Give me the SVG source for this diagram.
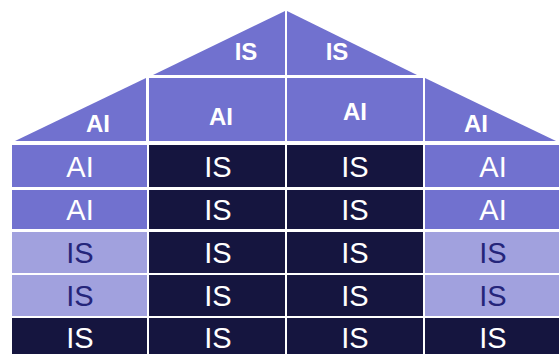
<svg xmlns="http://www.w3.org/2000/svg" width="559" height="354" viewBox="0 0 559 354">
<style>
.mid{fill:#7171CF}
.dark{fill:#15153F}
.light{fill:#A1A1DE}
text{font-family:"Liberation Sans",Arial,sans-serif;text-anchor:middle}
.t{font-size:29px}
.r{font-size:24px;font-weight:bold}
.w{fill:#FFFFFF}
.d{fill:#25257A}
</style>
<rect width="559" height="354" fill="#FFFFFF"/>
<g id="roof-top-left"><polygon class="mid" points="153,75 285,11 285,75"/><text class="r w" x="246" y="60">IS</text></g>
<g id="roof-top-right"><polygon class="mid" points="287,11 417,75 287,75"/><text class="r w" x="337" y="60">IS</text></g>
<g id="roof-left"><polygon class="mid" points="15,141 146,78 146,141"/><text class="r w" x="98" y="132">AI</text></g>
<g id="roof-mid-left"><rect class="mid" x="149" y="78" width="136" height="63"/><text class="r w" x="221" y="125">AI</text></g>
<g id="roof-mid-right"><rect class="mid" x="287" y="78" width="136" height="63"/><text class="r w" x="355" y="120">AI</text></g>
<g id="roof-right"><polygon class="mid" points="425,78 556,141 425,141"/><text class="r w" x="476" y="132">AI</text></g>

<g id="r1c1"><rect class="mid" x="12" y="145" width="135" height="42"/><text class="t w" x="80" y="177">AI</text></g>
<g id="r1c2"><rect class="dark" x="149" y="145" width="136" height="42"/><text class="t w" x="218" y="177">IS</text></g>
<g id="r1c3"><rect class="dark" x="287" y="145" width="136" height="42"/><text class="t w" x="355" y="177">IS</text></g>
<g id="r1c4"><rect class="mid" x="425" y="145" width="134" height="42"/><text class="t w" x="493" y="177">AI</text></g>

<g id="r2c1"><rect class="mid" x="12" y="190" width="135" height="39"/><text class="t w" x="80" y="220">AI</text></g>
<g id="r2c2"><rect class="dark" x="149" y="190" width="136" height="39"/><text class="t w" x="218" y="220">IS</text></g>
<g id="r2c3"><rect class="dark" x="287" y="190" width="136" height="39"/><text class="t w" x="355" y="220">IS</text></g>
<g id="r2c4"><rect class="mid" x="425" y="190" width="134" height="39"/><text class="t w" x="493" y="220">AI</text></g>

<g id="r3c1"><rect class="light" x="12" y="232" width="135" height="41"/><text class="t d" x="80" y="263">IS</text></g>
<g id="r3c2"><rect class="dark" x="149" y="232" width="136" height="41"/><text class="t w" x="218" y="263">IS</text></g>
<g id="r3c3"><rect class="dark" x="287" y="232" width="136" height="41"/><text class="t w" x="355" y="263">IS</text></g>
<g id="r3c4"><rect class="light" x="425" y="232" width="134" height="41"/><text class="t d" x="493" y="263">IS</text></g>

<g id="r4c1"><rect class="light" x="12" y="275" width="135" height="41"/><text class="t d" x="80" y="306">IS</text></g>
<g id="r4c2"><rect class="dark" x="149" y="275" width="136" height="41"/><text class="t w" x="218" y="306">IS</text></g>
<g id="r4c3"><rect class="dark" x="287" y="275" width="136" height="41"/><text class="t w" x="355" y="306">IS</text></g>
<g id="r4c4"><rect class="light" x="425" y="275" width="134" height="41"/><text class="t d" x="493" y="306">IS</text></g>

<g id="r5c1"><rect class="dark" x="12" y="318" width="135" height="36"/><text class="t w" x="80" y="348">IS</text></g>
<g id="r5c2"><rect class="dark" x="149" y="318" width="136" height="36"/><text class="t w" x="218" y="348">IS</text></g>
<g id="r5c3"><rect class="dark" x="287" y="318" width="136" height="36"/><text class="t w" x="355" y="348">IS</text></g>
<g id="r5c4"><rect class="dark" x="425" y="318" width="134" height="36"/><text class="t w" x="493" y="348">IS</text></g>
<g id="connectors"/>
</svg>
